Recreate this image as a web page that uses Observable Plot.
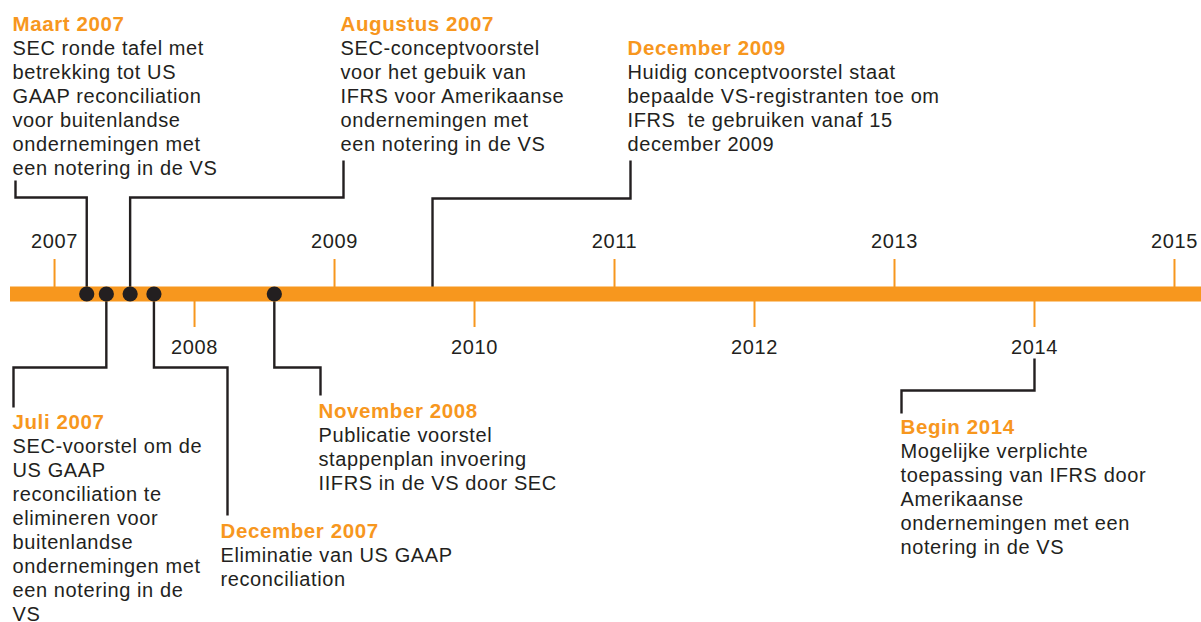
<!DOCTYPE html>
<html>
<head>
<meta charset="utf-8">
<script src="https://cdn.jsdelivr.net/npm/d3@7"></script>
<script src="https://cdn.jsdelivr.net/npm/@observablehq/plot@0.6"></script>
<style>
  html, body { margin: 0; padding: 0; background: #ffffff; overflow: hidden; }
  #chart svg text { letter-spacing: 0.6px; }
</style>
</head>
<body>
<div id="chart"></div>
<script>
// ---------- DATA ----------
const years = [2007, 2008, 2009, 2010, 2011, 2012, 2013, 2014, 2015];
const eventTitles = ["Maart 2007", "Juli 2007", "Augustus 2007", "December 2007", "November 2008", "December 2009", "Begin 2014"];
// position of each event on the timeline (decimal years, as drawn in the source)
const eventPositions = [2007.23, 2007.37, 2007.54, 2007.71, 2008.57, 2009.70, 2014.00];
const eventSides = ["boven", "onder", "boven", "onder", "onder", "boven", "onder"];
const eventHasDot = [true, true, true, true, true, false, false];
const eventBodies = [
  ["SEC ronde tafel met", "betrekking tot US", "GAAP reconciliation", "voor buitenlandse", "ondernemingen met", "een notering in de VS"],
  ["SEC-voorstel om de", "US GAAP", "reconciliation te", "elimineren voor", "buitenlandse", "ondernemingen met", "een notering in de", "VS"],
  ["SEC-conceptvoorstel", "voor het gebuik van", "IFRS voor Amerikaanse", "ondernemingen met", "een notering in de VS"],
  ["Eliminatie van US GAAP", "reconciliation"],
  ["Publicatie voorstel", "stappenplan invoering", "IIFRS in de VS door SEC"],
  ["Huidig conceptvoorstel staat", "bepaalde VS-registranten toe om", "IFRS  te gebruiken vanaf 15", "december 2009"],
  ["Mogelijke verplichte", "toepassing van IFRS door", "Amerikaanse", "ondernemingen met een", "notering in de VS"]
];

// ---------- LAYOUT (pixels) ----------
const W = 1201, H = 622;
const xDomain = [2006.614, 2015.193];
const xs = d3.scaleLinear(xDomain, [0, W]);
const barY = 293.5, barStart = 10;
const orange = "#F7971E", ink = "#231F20";
const lineH = 24;
// per event: text left x, title baseline, connector start y, elbow y, leg x, leg end y
const layout = [
  {tx: 12,  ty: 30,  y0: barY, ey: 197, lx: 15,  ly: 180},
  {tx: 12,  ty: 428, y0: barY, ey: 367, lx: 13,  ly: 407},
  {tx: 340, ty: 30,  y0: barY, ey: 197, lx: 343, ly: 160},
  {tx: 220, ty: 537, y0: barY, ey: 367, lx: 227, ly: 515},
  {tx: 318, ty: 417, y0: barY, ey: 367, lx: 320, ly: 395},
  {tx: 627, ty: 54,  y0: barY, ey: 198, lx: 630, ly: 160},
  {tx: 900, ty: 433, y0: 358,  ey: 390, lx: 901, ly: 413}
];

// ---------- DERIVED TABLES ----------
const events = eventTitles.map((t, i) => ({
  id: i, title: t, pos: eventPositions[i], side: eventSides[i], dot: eventHasDot[i], body: eventBodies[i], L: layout[i]
}));

const connectorPts = events.flatMap(e => [
  {id: e.id, x: e.pos, y: e.L.y0},
  {id: e.id, x: e.pos, y: e.L.ey},
  {id: e.id, x: xs.invert(e.L.lx), y: e.L.ey},
  {id: e.id, x: xs.invert(e.L.lx), y: e.L.ly}
]);

const titleRows = events.map(e => ({x: xs.invert(e.L.tx), y: e.L.ty, text: e.title}));
const bodyRows = events.flatMap(e => e.body.map((line, j) => ({x: xs.invert(e.L.tx), y: e.L.ty + lineH * (j + 1), text: line})));

const yearRows = years.map((yr, i) => ({year: yr, above: i % 2 === 0}));
const bar = [{start: xs.invert(barStart), end: xDomain[1]}];

const chart = Plot.plot({
  width: W,
  height: H,
  marginTop: 0, marginRight: 0, marginBottom: 0, marginLeft: 0,
  x: {domain: xDomain, range: [0, W], axis: null},
  y: {domain: [0, H], range: [0, H], axis: null},
  style: {fontFamily: "'Liberation Sans', Arial, Helvetica, sans-serif", background: "#ffffff", overflow: "visible"},
  marks: [
    // connectors
    Plot.line(connectorPts, {x: "x", y: "y", z: "id", stroke: ink, strokeWidth: 2.4, curve: "linear",
      strokeLinejoin: "miter", strokeMiterlimit: 4, strokeLinecap: "butt"}),
    // year ticks
    Plot.ruleX(yearRows, {x: "year", y1: d => d.above ? 259 : barY, y2: d => d.above ? barY : 327, stroke: orange, strokeWidth: 2}),
    // timeline bar
    Plot.ruleY(bar, {x1: "start", x2: "end", y: () => barY, stroke: orange, strokeWidth: 15}),
    // event dots
    Plot.dot(events.filter(e => e.dot), {x: "pos", y: () => barY, r: 7.6, fill: ink, stroke: "none"}),
    // year labels
    Plot.text(yearRows, {x: "year", y: d => d.above ? 247 : 353, text: d => String(d.year), textAnchor: "middle",
      lineAnchor: "bottom", fontSize: 20, fill: ink}),
    // titles
    Plot.text(titleRows, {x: "x", y: "y", text: "text", textAnchor: "start", lineAnchor: "bottom",
      fontSize: 20.5, fontWeight: "bold", fill: orange}),
    // bodies
    Plot.text(bodyRows, {x: "x", y: "y", text: "text", textAnchor: "start", lineAnchor: "bottom",
      fontSize: 20, fill: ink})
  ]
});

document.getElementById("chart").appendChild(chart);
</script>
</body>
</html>
